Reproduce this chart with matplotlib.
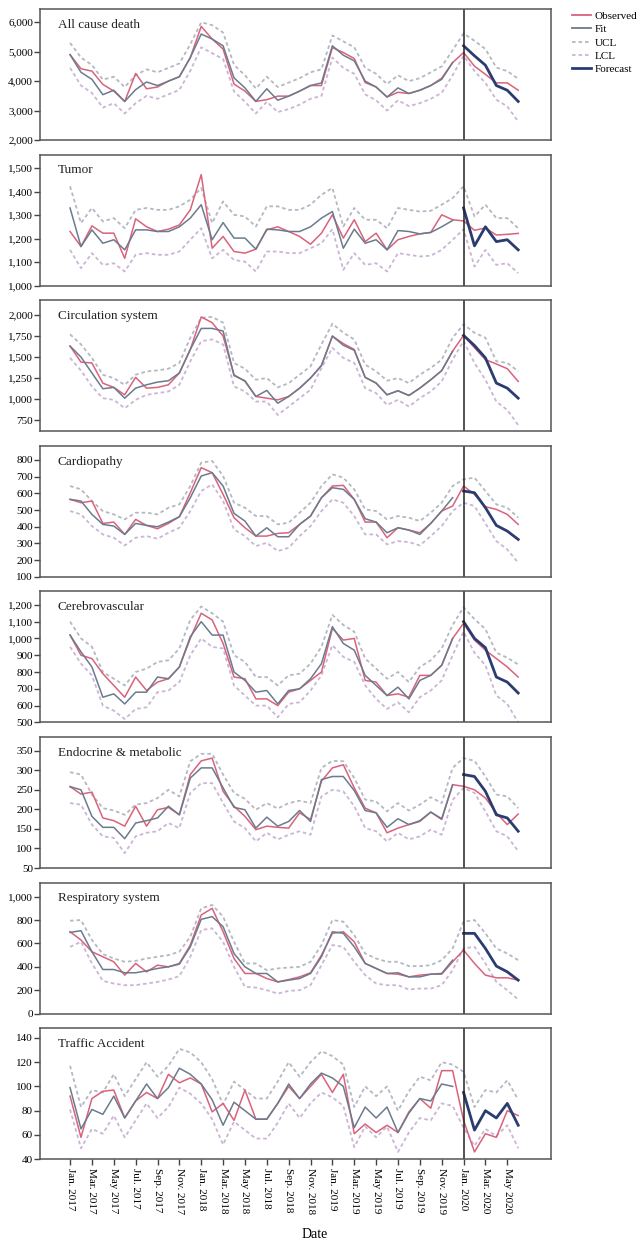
import numpy as np
import matplotlib
matplotlib.use("Agg")
import matplotlib.pyplot as plt
from matplotlib.ticker import FuncFormatter
from matplotlib.lines import Line2D

plt.rcParams['font.family'] = ['Liberation Serif', 'DejaVu Serif']

# months Jan 2017 .. Jun 2020
months = np.arange(42)
fc_months = np.arange(36, 42)
tick_pos = np.arange(0, 42, 2)
tick_labels = ['Jan. 2017', 'Mar. 2017', 'May 2017', 'Jul. 2017', 'Sep. 2017', 'Nov. 2017',
               'Jan. 2018', 'Mar. 2018', 'May 2018', 'Jul. 2018', 'Sep. 2018', 'Nov. 2018',
               'Jan. 2019', 'Mar. 2019', 'May 2019', 'Jul. 2019', 'Sep. 2019', 'Nov. 2019',
               'Jan. 2020', 'Mar. 2020', 'May 2020']

# All cause death
obs_all = [4900,4420,4340,3890,3660,3310,4260,3740,3800,4000,4150,4800,5860,5430,5090,3900,3660,3310,3370,3490,3490,
           3660,3850,3850,5140,4970,4770,3950,3800,3460,3620,3580,3690,3850,4100,4630,4970,4510,4230,3940,3940,3690]
fit_all = [4900,4300,4060,3540,3690,3310,3710,3970,3850,4000,4150,4800,5600,5430,5200,4110,3770,3310,3740,3350,3490,
           3660,3850,3940,5200,4880,4690,4000,3800,3460,3770,3580,3690,3850,4060,4630]
fc_all = [5200,4860,4540,3850,3690,3310]
ucl_all = [5300,4800,4550,4050,4150,3800,4200,4400,4300,4450,4600,5250,6000,5900,5650,4550,4200,3750,4150,3800,3950,
           4100,4300,4400,5550,5350,5150,4450,4250,3900,4200,4000,4100,4300,4500,5050,5620,5370,5090,4460,4340,4080]
lcl_all = [4450,3850,3600,3100,3250,2900,3250,3500,3400,3550,3700,4350,5150,4950,4750,3650,3300,2900,3300,2950,3050,
           3200,3400,3500,4800,4450,4250,3550,3350,3000,3350,3150,3250,3400,3600,4200,4860,4340,3940,3370,3140,2630]

# Tumor
obs_tum = [1230,1166,1254,1223,1223,1116,1284,1250,1230,1240,1258,1322,1472,1159,1209,1145,1138,1155,1237,1250,1230,
           1209,1176,1223,1301,1202,1280,1187,1223,1152,1195,1209,1220,1226,1301,1280,1275,1235,1245,1215,1218,1222]
fit_tum = [1330,1166,1237,1180,1195,1152,1237,1237,1230,1230,1250,1287,1344,1195,1268,1202,1202,1155,1240,1237,1230,
           1230,1250,1287,1315,1159,1240,1180,1195,1152,1234,1230,1220,1226,1250,1277]
fc_tum = [1330,1169,1250,1187,1195,1152]
ucl_tum = [1422,1266,1330,1273,1287,1244,1322,1330,1322,1322,1337,1365,1415,1266,1358,1301,1294,1251,1337,1337,1322,
           1322,1344,1386,1415,1251,1330,1280,1280,1244,1330,1322,1315,1318,1344,1372,1422,1294,1344,1287,1287,1244]
lcl_tum = [1152,1074,1138,1088,1095,1060,1131,1138,1131,1131,1145,1195,1244,1116,1152,1109,1102,1060,1145,1145,1138,
           1138,1159,1180,1240,1067,1138,1088,1095,1060,1138,1131,1124,1127,1152,1195,1240,1081,1152,1088,1095,1053]

# Circulation system
obs_cir = [1630,1440,1430,1190,1140,1052,1259,1131,1140,1171,1311,1590,1976,1908,1749,1290,1211,1032,1012,992,1032,
           1131,1251,1400,1749,1660,1590,1259,1191,1052,1100,1044,1131,1231,1339,1570,1757,1610,1470,1418,1362,1211]
fit_cir = [1630,1500,1311,1124,1140,1012,1131,1171,1203,1219,1311,1590,1840,1840,1809,1280,1219,1032,1104,952,1032,
           1131,1251,1400,1749,1640,1580,1259,1191,1052,1100,1044,1131,1231,1339,1570]
fc_cir = [1757,1637,1490,1191,1131,1012]
ucl_cir = [1770,1650,1490,1290,1250,1170,1290,1330,1342,1362,1430,1729,1968,1976,1908,1430,1362,1231,1251,1140,1190,
           1290,1390,1650,1896,1789,1709,1410,1331,1219,1251,1191,1291,1370,1470,1729,1888,1789,1729,1450,1430,1331]
lcl_cir = [1490,1340,1151,1012,992,892,992,1052,1072,1092,1171,1450,1689,1709,1650,1151,1092,972,972,813,912,
           1012,1112,1370,1610,1490,1430,1131,1072,932,992,912,1012,1092,1211,1470,1690,1430,1231,972,872,693]

# Cardiopathy
obs_car = [564,544,554,420,428,354,444,408,388,420,460,604,754,724,594,454,394,344,344,360,364,
           414,464,574,644,648,564,428,428,334,394,380,364,420,494,524,644,594,520,504,474,414]
fit_car = [564,554,474,414,404,354,420,408,400,428,460,574,704,724,644,480,434,344,394,340,340,
           414,464,574,634,624,564,448,428,364,394,380,354,420,494,574]
fc_car = [614,604,514,408,374,324]
ucl_car = [644,624,554,494,474,444,484,484,474,514,534,644,784,794,704,544,514,464,464,414,424,
           484,544,644,714,694,624,504,494,444,464,454,434,484,544,644,684,694,614,534,514,454]
lcl_car = [494,474,404,354,334,288,334,344,328,364,394,494,614,654,554,384,344,284,304,254,274,
           344,404,494,564,544,464,354,354,294,314,308,288,344,404,494,544,524,420,314,264,184]

# Cerebrovascular
obs_cer = [1020,900,880,790,720,650,770,690,740,760,830,1000,1150,1110,970,770,760,640,640,600,680,
           700,750,800,1060,990,1000,750,740,660,670,650,780,780,840,1000,1090,990,930,880,830,770]
fit_cer = [1020,920,830,650,670,610,680,680,770,760,830,1010,1100,1020,1020,800,750,680,690,610,690,
           700,760,850,1070,970,930,780,720,660,710,640,750,780,840,1000]
fc_cer = [1100,1000,945,770,740,675]
ucl_cer = [1100,1000,950,800,760,720,800,820,860,870,940,1110,1190,1150,1100,900,860,770,770,720,780,
           790,850,950,1140,1080,1040,880,820,760,800,740,830,870,940,1080,1185,1115,1055,915,885,845]
lcl_cer = [950,850,780,600,570,520,580,590,680,690,740,900,1000,950,940,720,660,600,600,530,610,
           620,690,780,960,890,860,720,640,580,620,560,650,690,750,900,1040,915,840,660,610,500]

# Endocrine & metabolic
obs_end = [258,239,244,178,171,157,208,157,199,205,186,289,324,331,246,208,182,148,157,154,152,
           191,174,272,306,314,255,203,191,140,152,161,169,193,174,263,259,250,229,191,161,188]
fit_end = [258,250,182,154,154,125,165,171,178,208,186,280,306,306,255,205,199,152,180,157,169,
           197,169,276,284,284,248,197,191,154,176,161,171,193,176,263]
fc_end = [289,284,246,186,178,144]
ucl_end = [295,289,238,203,197,186,212,216,229,250,233,323,342,342,289,242,227,199,216,202,216,
           222,216,306,324,323,280,225,220,195,216,197,212,231,216,306,331,324,284,238,233,203]
lcl_end = [216,212,161,131,127,88,131,140,144,165,152,242,267,267,216,169,152,118,140,123,135,
           144,135,233,250,246,208,152,144,118,140,123,131,148,135,224,255,242,195,144,131,93]

# Respiratory system
obs_res = [700,629,529,486,443,329,429,357,414,400,429,586,843,900,700,471,343,343,300,271,291,
           314,349,500,686,700,614,429,386,343,337,314,329,337,337,443,543,429,329,306,306,286]
fit_res = [694,709,529,377,377,349,349,366,386,400,423,571,806,829,743,514,400,343,343,271,286,
           300,343,486,700,686,571,429,386,343,349,314,314,337,343,457]
fc_res = [686,686,557,406,357,286]
ucl_res = [794,800,629,509,471,443,451,471,486,500,529,657,900,929,829,614,429,429,371,386,394,
           400,443,586,800,786,671,514,471,443,443,406,406,414,457,557,786,800,686,557,514,457]
lcl_res = [571,614,429,280,257,243,243,257,271,291,320,486,714,729,614,400,229,223,200,171,194,
           200,243,414,586,571,443,329,257,243,243,206,214,214,243,371,557,571,429,271,200,120]

# Traffic Accident
obs_tra = [92,58,90,96,97,74,88,95,90,110,103,107,102,79,86,72,97,73,73,86,100,
           90,100,110,95,110,61,69,62,68,62,79,90,82,113,113,72,46,61,58,80,76]
fit_tra = [99,65,81,77,92,74,88,102,90,99,115,110,102,89,68,87,80,73,73,86,102,
           90,102,111,107,100,66,83,74,83,62,78,90,88,102,100]
fc_tra = [95,64,80,74,86,68]
ucl_tra = [117,83,97,95,110,92,106,120,108,117,131,128,120,106,85,104,97,90,90,104,120,
           108,120,129,125,118,83,100,92,100,80,96,108,105,120,118,112,83,97,95,105,89]
lcl_tra = [81,49,65,61,76,58,72,86,74,83,99,94,86,73,52,71,64,57,57,70,86,
           74,86,95,91,84,50,67,58,67,46,62,74,72,86,84,66,51,65,59,68,49]

panels = [
    ('All cause death', obs_all, fit_all, fc_all, ucl_all, lcl_all, (2000, 6450), np.arange(2000, 6001, 1000)),
    ('Tumor', obs_tum, fit_tum, fc_tum, ucl_tum, lcl_tum, (1000, 1557), np.arange(1000, 1501, 100)),
    ('Circulation system', obs_cir, fit_cir, fc_cir, ucl_cir, lcl_cir, (620, 2175), np.arange(750, 2001, 250)),
    ('Cardiopathy', obs_car, fit_car, fc_car, ucl_car, lcl_car, (100, 885), np.arange(100, 801, 100)),
    ('Cerebrovascular', obs_cer, fit_cer, fc_cer, ucl_cer, lcl_cer, (500, 1280), np.arange(500, 1201, 100)),
    ('Endocrine & metabolic', obs_end, fit_end, fc_end, ucl_end, lcl_end, (50, 385), np.arange(50, 351, 50)),
    ('Respiratory system', obs_res, fit_res, fc_res, ucl_res, lcl_res, (0, 1120), np.arange(0, 1001, 200)),
    ('Traffic Accident', obs_tra, fit_tra, fc_tra, ucl_tra, lcl_tra, (40, 148), np.arange(40, 141, 20)),
]

c_obs = '#d9637b'
c_fit = '#6b7b8d'
c_ucl = '#b3b8c3'
c_lcl = '#cbb5d6'
c_fc = '#2b3c70'
dash = (0, (2.0, 1.6))

W, H = 643, 1250
fig = plt.figure(figsize=(W / 100, H / 100), dpi=100)
fmt = FuncFormatter(lambda v, p: '{:,.0f}'.format(v))

for i, (name, obs, fit, fc, ucl, lcl, ylim, yticks) in enumerate(panels):
    top = 9 + 145.6 * i
    ax = fig.add_axes([40 / W, 1 - (top + 131) / H, 511 / W, 131 / H])
    ax.plot(months, ucl, color=c_ucl, lw=1.3, ls=dash)
    ax.plot(months, lcl, color=c_lcl, lw=1.3, ls=dash)
    ax.plot(months, obs, color=c_obs, lw=1.1)
    ax.plot(months[:36], fit, color=c_fit, lw=1.1)
    ax.plot(fc_months, fc, color=c_fc, lw=2.0)
    ax.axvline(36, color='#222222', lw=1.1)
    ax.set_xlim(-2.75, 44.0)
    ax.set_ylim(*ylim)
    ax.set_yticks(yticks)
    ax.yaxis.set_major_formatter(fmt)
    ax.tick_params(axis='y', direction='out', length=4, width=1, labelsize=8, pad=1, color='#444444')
    for s in ax.spines.values():
        s.set_color('#555555')
        s.set_linewidth(1.1)
    ax.text(0.035, 0.88, name, transform=ax.transAxes, fontsize=9.5, va='center', ha='left', color='#222222')
    if i == len(panels) - 1:
        ax.set_xticks(tick_pos)
        ax.set_xticklabels(tick_labels, rotation=270, fontsize=8)
        ax.tick_params(axis='x', direction='out', length=4, width=1, color='#444444', pad=2)
    else:
        ax.set_xticks([])

fig.text(0.49, 0.0128, 'Date', ha='center', va='center', fontsize=10)

handles = [Line2D([], [], color=c_obs, lw=1.3),
           Line2D([], [], color=c_fit, lw=1.3),
           Line2D([], [], color=c_ucl, lw=1.3, ls=dash),
           Line2D([], [], color=c_lcl, lw=1.3, ls=dash),
           Line2D([], [], color=c_fc, lw=2.0)]
fig.legend(handles, ['Observed', 'Fit', 'UCL', 'LCL', 'Forecast'], loc='upper left',
           bbox_to_anchor=(0.89, 0.991), frameon=False, fontsize=8, handlelength=1.7,
           handletextpad=0.3, labelspacing=0.32, borderaxespad=0, borderpad=0)

fig.savefig('out.png', dpi=100)
